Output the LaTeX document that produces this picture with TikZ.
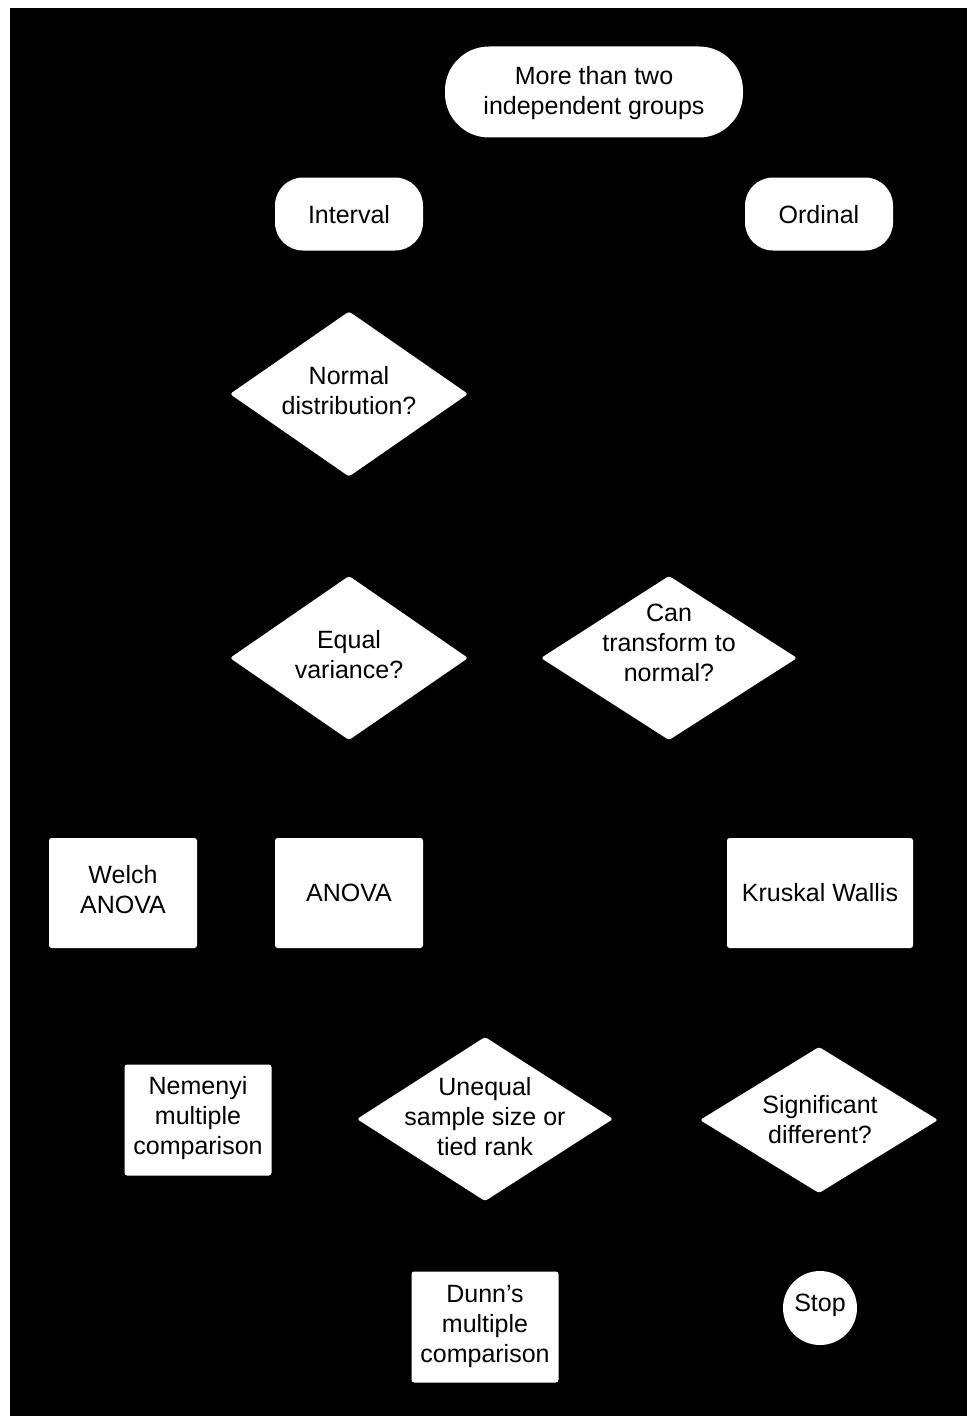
\documentclass[tikz,border=0pt]{standalone}
\usepackage{fontspec}
\setmainfont{Liberation Sans}
\usetikzlibrary{shapes.geometric}
\begin{document}
\begin{tikzpicture}[x=0.75pt,y=-0.75pt,
  txt/.style={font=\fontsize{18.75}{22.5}\selectfont, text=black, align=center, inner sep=0pt},
  startbox/.style={fill=white, rounded corners=33pt, minimum width=223.5pt, minimum height=68.25pt, inner sep=0pt},
  typebox/.style={fill=white, rounded corners=21pt, minimum width=111pt, minimum height=54.75pt, inner sep=0pt},
  testbox/.style={fill=white, rounded corners=2pt, minimum height=82.5pt, inner sep=0pt},
  decision/.style={diamond, fill=white, rounded corners=2pt, inner sep=0pt, outer sep=0pt},
  stopnode/.style={circle, fill=white, minimum size=55.5pt, inner sep=0pt}
]
\useasboundingbox (0,0) rectangle (967,1416);
\fill[white] (0,0) rectangle (967,1416);
\fill[black] (10,8) rectangle (967,1416);

% shapes
\node[startbox] (start) at (594,92) {};
\node[typebox] (interval) at (349,214) {};
\node[typebox] (ordinal) at (819,214) {};
\node[decision, minimum width=178.5pt, minimum height=123.75pt] (normal) at (349,394) {};
\node[decision, minimum width=178.5pt, minimum height=123pt] (equal) at (349,658) {};
\node[decision, minimum width=192pt, minimum height=123pt] (can) at (669,658) {};
\node[testbox, minimum width=111pt] (welch) at (123,893) {};
\node[testbox, minimum width=111pt] (anova) at (349,893) {};
\node[testbox, minimum width=139.5pt] (kruskal) at (820,893) {};
\node[testbox, minimum width=110.25pt, minimum height=83.25pt] (nemenyi) at (198,1120) {};
\node[decision, minimum width=192pt, minimum height=123pt] (unequal) at (485,1119) {};
\node[decision, minimum width=178.5pt, minimum height=109.5pt] (signif) at (819,1120) {};
\node[testbox, minimum width=110.25pt, minimum height=83.25pt] (dunn) at (485,1327) {};
\node[stopnode] (stop) at (820,1308) {};

% texts
\node[txt] (start-t) at (594,93) {More than two\\independent groups};
\node[txt] (interval-t) at (349,215) {Interval};
\node[txt] (ordinal-t) at (819,215) {Ordinal};
\node[txt] (normal-t) at (349,391) {Normal\\distribution?};
\node[txt] (equal-t) at (349,655) {Equal\\variance?};
\node[txt] (can-t) at (669,643) {Can\\transform to\\normal?};
\node[txt] (welch-t) at (123,890) {Welch\\ANOVA};
\node[txt] (anova-t) at (349,893) {ANOVA};
\node[txt] (kruskal-t) at (820,893) {Kruskal Wallis};
\node[txt] (nemenyi-t) at (198,1118) {Nemenyi\\multiple\\comparison};
\node[txt] (unequal-t) at (485,1117) {Unequal\\sample size or\\tied rank};
\node[txt] (signif-t) at (820,1120) {Significant\\different?};
\node[txt] (dunn-t) at (485,1326) {Dunn’s\\multiple\\comparison};
\node[txt] (stop-t) at (820,1305) {Stop};
\end{tikzpicture}
\end{document}
